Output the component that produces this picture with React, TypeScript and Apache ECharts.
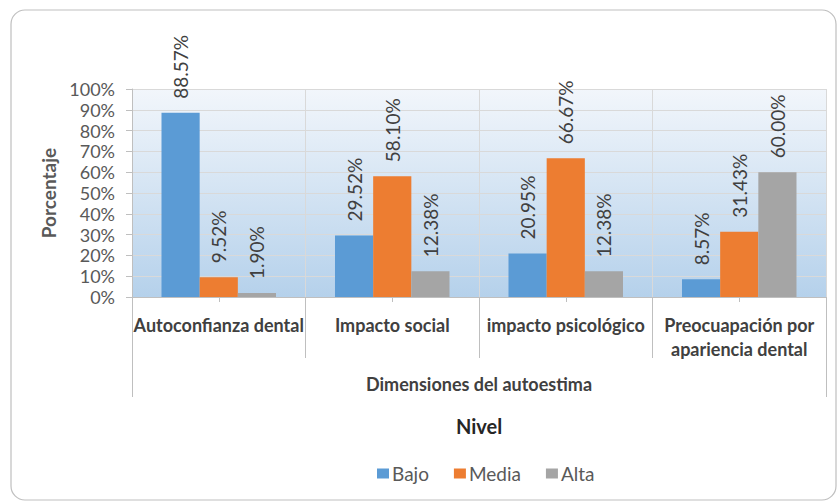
import React, { useEffect, useRef } from "react";
import * as echarts from "echarts";

const categories = [
  "Autoconfianza dental",
  "Impacto social",
  "impacto psicológico",
  "Preocuapación por\napariencia dental",
];
const groupLabel = "Dimensiones del autoestima";
const seriesNames = ["Bajo", "Media", "Alta"];
const bajo = [88.57, 29.52, 20.95, 8.57];
const media = [9.52, 58.1, 66.67, 31.43];
const alta = [1.9, 12.38, 12.38, 60.0];
const colors = ["#5B9BD5", "#ED7D31", "#A5A5A5"];

const FONT = "Lato";
const GRID = { left: 132, top: 89, right: 11, bottom: 205 };

export default function App() {
  const ref = useRef<HTMLDivElement>(null);
  useEffect(() => {
    if (!ref.current) return;
    const chart = echarts.init(ref.current, undefined, { renderer: "svg" });
    const values = [bajo, media, alta];
    const plotCenterX = GRID.left + (837 - GRID.left - GRID.right) / 2;
    chart.setOption({
      animation: false,
      textStyle: { fontFamily: FONT },
      color: colors,
      legend: {
        data: seriesNames,
        left: 372,
        top: 459,
        itemWidth: 12,
        itemHeight: 10,
        itemGap: 25,
        icon: "rect",
        textStyle: { fontFamily: FONT, fontSize: 19, color: "#595959", padding: [0, 0, 0, -2] },
      },
      graphic: [
        {
          type: "rect",
          shape: { x: 11, y: 10, width: 825, height: 490, r: 14 },
          style: { fill: "none", stroke: "#BFBFBF", lineWidth: 1.2 },
          silent: true,
          z: -10,
        },
        {
          type: "text",
          x: plotCenterX,
          y: 416,
          style: {
            text: "Nivel",
            fontFamily: FONT,
            fontSize: 20,
            fontWeight: "bold",
            fill: "#262626",
            textAlign: "center",
          },
        },
      ],
      grid: {
        ...GRID,
        show: true,
        borderWidth: 0,
        backgroundColor: new echarts.graphic.LinearGradient(0, 0, 0, 1, [
          { offset: 0, color: "#F2F6FB" },
          { offset: 1, color: "#B5D1EB" },
        ]),
      },
      xAxis: [
        {
          type: "category",
          data: categories,
          axisLine: { show: true, lineStyle: { color: "#BFBFBF" } },
          axisTick: { show: true, length: 61, interval: 0, lineStyle: { color: "#BFBFBF" } },
          splitLine: { show: true, interval: 0, lineStyle: { color: "#D9D9D9" } },
          axisLabel: {
            interval: 0,
            margin: 16,
            fontFamily: FONT,
            fontSize: 18,
            fontWeight: "bold",
            color: "#404040",
            lineHeight: 24,
          },
        },
        {
          type: "category",
          data: categories,
          position: "bottom",
          axisLine: { show: false },
          axisTick: { show: true, alignWithLabel: true, length: 5, lineStyle: { color: "#BFBFBF" } },
          axisLabel: { show: false },
          splitLine: { show: false },
        },
        {
          type: "category",
          data: [groupLabel],
          position: "bottom",
          axisLine: { show: false },
          axisTick: { show: true, length: 100, interval: 0, lineStyle: { color: "#BFBFBF" } },
          axisLabel: {
            margin: 78,
            fontFamily: FONT,
            fontSize: 18,
            fontWeight: "bold",
            color: "#404040",
          },
          splitLine: { show: false },
        },
      ],
      yAxis: {
        type: "value",
        min: 0,
        max: 100,
        interval: 10,
        name: "Porcentaje",
        nameLocation: "middle",
        nameRotate: 90,
        nameGap: 68,
        nameTextStyle: { fontFamily: FONT, fontSize: 19, fontWeight: "bold", color: "#595959" },
        axisLine: { show: true, lineStyle: { color: "#BFBFBF" } },
        axisTick: { show: true, length: 6, lineStyle: { color: "#BFBFBF" } },
        splitLine: { show: true, lineStyle: { color: "#D9D9D9" } },
        axisLabel: {
          margin: 17,
          fontFamily: FONT,
          fontSize: 18,
          color: "#595959",
          formatter: (v: number) => `${v}%`,
        },
      },
      series: seriesNames.map((name, i) => ({
        name,
        type: "bar",
        xAxisIndex: 0,
        data: values[i],
        barGap: "0%",
        barCategoryGap: "34%",
        itemStyle: { color: colors[i] },
        label: {
          show: true,
          position: "top",
          rotate: 90,
          align: "left",
          verticalAlign: "middle",
          distance: 14,
          fontFamily: FONT,
          fontSize: 19,
          color: "#404040",
          formatter: (p: any) => `${p.value.toFixed(2)}%`,
        },
      })),
    });
    return () => chart.dispose();
  }, []);
  return (
    <div
      ref={ref}
      style={{ position: "absolute", left: 0, top: 0, width: 837, height: 502, background: "#fff" }}
    />
  );
}
